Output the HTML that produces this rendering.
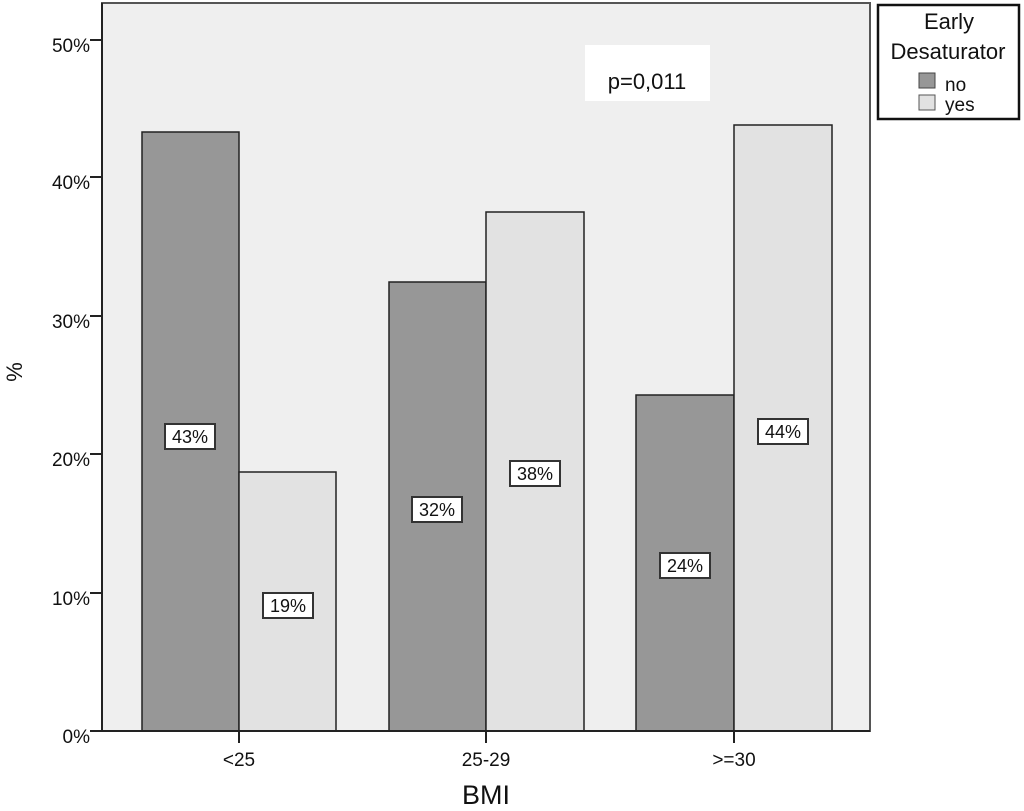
<!DOCTYPE html>
<html><head><style>
body{margin:0;background:#fff;}
svg{display:block;font-family:"Liberation Sans",Arial,sans-serif;}
</style></head><body>
<svg width="1024" height="811" viewBox="0 0 1024 811">
<rect x="102" y="3" width="768" height="728" fill="#efefef" stroke="#555" stroke-width="2"/>
<rect x="585" y="45" width="125" height="56" fill="#fff"/>
<text x="647" y="89" font-size="22" text-anchor="middle" fill="#111">p=0,011</text>
<g stroke="#222" stroke-width="1.5">
<rect x="142" y="132" width="97" height="599" fill="#979797"/>
<rect x="239" y="472" width="97" height="259" fill="#e2e2e2"/>
<rect x="389" y="282" width="97" height="449" fill="#979797"/>
<rect x="486" y="212" width="98" height="519" fill="#e2e2e2"/>
<rect x="636" y="395" width="98" height="336" fill="#979797"/>
<rect x="734" y="125" width="98" height="606" fill="#e2e2e2"/>
</g>
<line x1="102" y1="3" x2="102" y2="731" stroke="#222" stroke-width="2"/>
<line x1="102" y1="731" x2="870" y2="731" stroke="#222" stroke-width="2"/>
<g stroke="#222" stroke-width="2">
<line x1="90" y1="40" x2="102" y2="40"/><line x1="90" y1="177" x2="102" y2="177"/>
<line x1="90" y1="316" x2="102" y2="316"/><line x1="90" y1="454" x2="102" y2="454"/>
<line x1="90" y1="593" x2="102" y2="593"/><line x1="90" y1="731" x2="102" y2="731"/>
<line x1="239" y1="731" x2="239" y2="743"/><line x1="486" y1="731" x2="486" y2="743"/><line x1="734" y1="731" x2="734" y2="743"/>
</g>
<g font-size="19" text-anchor="end" fill="#111">
<text x="90" y="52">50%</text><text x="90" y="189">40%</text><text x="90" y="328">30%</text>
<text x="90" y="466">20%</text><text x="90" y="605">10%</text><text x="90" y="743">0%</text>
</g>
<g font-size="19" text-anchor="middle" fill="#111">
<text x="239" y="766">&lt;25</text><text x="486" y="766">25-29</text><text x="734" y="766">&gt;=30</text>
</g>
<text x="486" y="804" font-size="27" text-anchor="middle" fill="#111">BMI</text>
<text x="22" y="372" font-size="22" text-anchor="middle" fill="#111" transform="rotate(-90 22 372)">%</text>
<g font-size="18" text-anchor="middle" fill="#111">
<rect x="165" y="424" width="50" height="25" fill="#fff" stroke="#333" stroke-width="2"/><text x="190" y="443">43%</text>
<rect x="263" y="593" width="50" height="25" fill="#fff" stroke="#333" stroke-width="2"/><text x="288" y="612">19%</text>
<rect x="412" y="497" width="50" height="25" fill="#fff" stroke="#333" stroke-width="2"/><text x="437" y="516">32%</text>
<rect x="510" y="461" width="50" height="25" fill="#fff" stroke="#333" stroke-width="2"/><text x="535" y="480">38%</text>
<rect x="660" y="553" width="50" height="25" fill="#fff" stroke="#333" stroke-width="2"/><text x="685" y="572">24%</text>
<rect x="758" y="419" width="50" height="25" fill="#fff" stroke="#333" stroke-width="2"/><text x="783" y="438">44%</text>
</g>
<rect x="878" y="5" width="141" height="114" fill="#fff" stroke="#111" stroke-width="2.5"/>
<text x="949" y="29" font-size="22" text-anchor="middle" fill="#111">Early</text>
<text x="948" y="59" font-size="22" text-anchor="middle" fill="#111">Desaturator</text>
<rect x="919" y="73" width="16" height="15" fill="#979797" stroke="#444"/>
<rect x="919" y="95" width="16" height="15" fill="#e2e2e2" stroke="#555"/>
<text x="945" y="91" font-size="19" fill="#111">no</text>
<text x="945" y="111" font-size="19" fill="#111">yes</text>
</svg>
</body></html>
